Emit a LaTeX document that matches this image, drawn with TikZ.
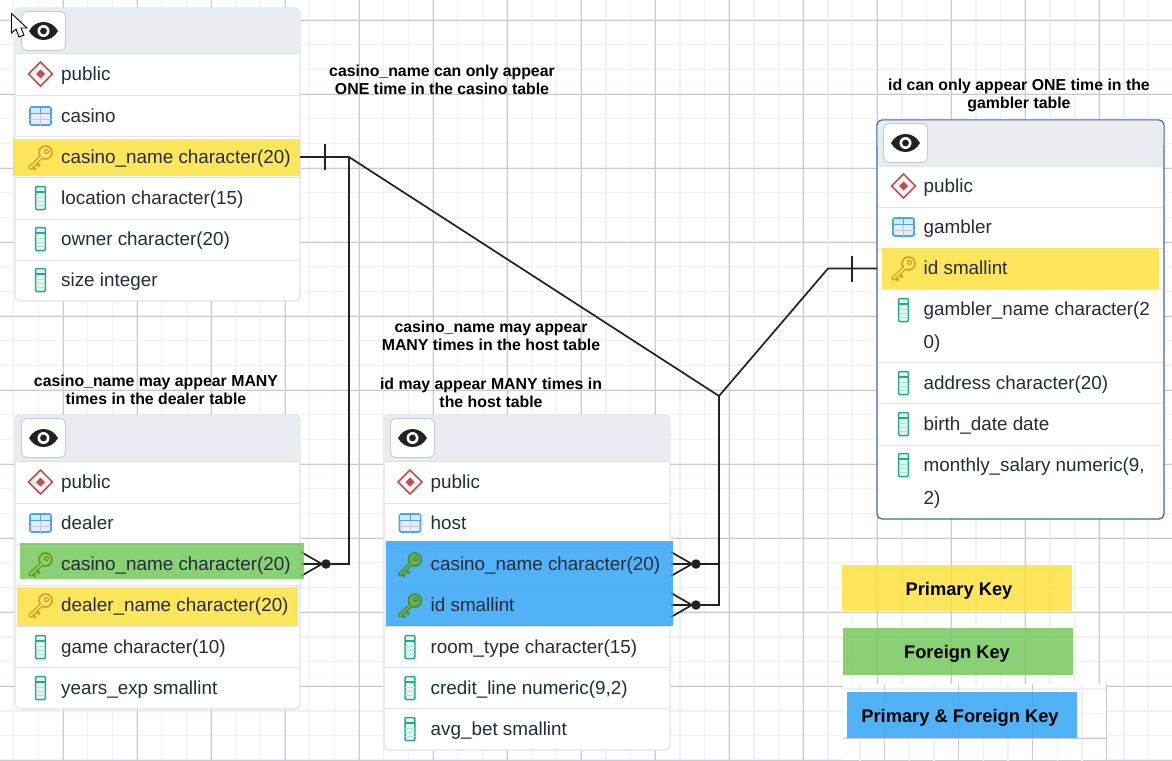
\documentclass[tikz,border=0pt]{standalone}
\usepackage{fontspec}
\setmainfont{Liberation Sans}
\usetikzlibrary{calc}

\definecolor{gridminor}{HTML}{EFF0F5}
\definecolor{gridmajor}{HTML}{C6CAD7}
\definecolor{tableedge}{HTML}{E0E3EB}
\definecolor{tableblue}{HTML}{3F6C94}
\definecolor{headfill}{HTML}{E9ECF1}
\definecolor{rowink}{HTML}{242C3A}
\definecolor{linkink}{HTML}{222222}
\definecolor{pkfill}{HTML}{FDE139}
\definecolor{fkfill}{HTML}{70C856}
\definecolor{bothfill}{HTML}{2DA2F6}
\definecolor{schemared}{HTML}{C0504F}
\definecolor{tblblue}{HTML}{4AA5EE}
\definecolor{colteal}{HTML}{22A98C}
\definecolor{pkkey}{HTML}{D2A524}
\definecolor{pkinner}{HTML}{FDE86A}
\definecolor{fkkey}{HTML}{6E9A1F}
\definecolor{fkinner}{HTML}{8AD373}
\definecolor{bothkey}{HTML}{4A8F3C}
\definecolor{bothinner}{HTML}{66B25A}

\tikzset{
  gridthin/.style={gridminor, line width=1.5pt},
  gridthick/.style={gridmajor, line width=0.9pt},
  tablebox/.style={draw=tableedge, fill=white, line width=1.3pt, rounded corners=5pt},
  sepline/.style={tableedge, line width=1pt},
  rowtext/.style={anchor=base west, inner sep=0pt, text=rowink, font=\fontsize{18.85}{22}\selectfont},
  notetext/.style={inner sep=0pt, text=black, font=\fontsize{15.85}{18.5}\selectfont\bfseries},
  legendtext/.style={inner sep=0pt, text=black, font=\fontsize{18.3}{20}\selectfont\bfseries},
  keyrow/.style={fill=#1, fill opacity=0.82, rectangle, inner sep=0pt, anchor=north west},
  link/.style={linkink, line width=1.7pt},
  crowdot/.style={circle, fill=linkink, inner sep=0pt, minimum size=9.5pt},
  pics/schemaicon/.style={code={
    \draw[schemared, line width=1.5pt, fill=schemared!6] (-12,0) -- (0,-12) -- (12,0) -- (0,12) -- cycle;
    \fill[schemared] (-4.5,0) -- (0,-4.5) -- (4.5,0) -- (0,4.5) -- cycle;
  }},
  pics/tblicon/.style={code={
    \draw[tblblue, line width=1.6pt, fill=headfill, rounded corners=1.5pt] (-10.5,-9) rectangle (10.5,9);
    \fill[tblblue!25] (-9.7,-8.2) rectangle (9.7,-2.5);
    \draw[tblblue, line width=1pt] (-10.5,-2.5) -- (10.5,-2.5) (0,-9) -- (0,-2.5);
    \draw[gridmajor, line width=0.9pt] (-10.5,3.2) -- (10.5,3.2) (0,-2.5) -- (0,9);
  }},
  pics/colicon/.style={code={
    \draw[colteal, line width=1.5pt, fill=colteal!12, rounded corners=1pt] (-4.9,-11.5) rectangle (4.9,11.5);
    \draw[colteal, line width=1.2pt] (-4.9,-6) -- (4.9,-6);
    \draw[colteal!35, line width=0.8pt] (-4.9,-1) -- (4.9,-1) (-4.9,3) -- (4.9,3) (-4.9,7) -- (4.9,7);
  }},
  pics/keyicon/.style 2 args={code={
    \draw[#1, line width=4.4pt, line cap=round] (2,-1) -- (-10,10.5);
    \draw[#1, line width=3pt] (-4.5,5.5) -- (-1,9.5);
    \draw[#1, line width=3pt] (-8.5,9) -- (-5,12.5);
    \fill[#1] (5,-4.5) circle (7.4);
    \draw[#2, line width=1.6pt, line cap=round] (2,-1) -- (-10,10.5);
    \fill[#2] (5,-4.5) circle (5.6);
    \fill[#1] (6,-5.5) circle (2.8);
    \fill[#2] (6,-5.5) circle (1.3);
  }},
  pics/eyeicon/.style={code={
    \fill[linkink] (-14.5,0) .. controls (-8,-12) and (8,-12) .. (14.5,0) .. controls (8,12) and (-8,12) .. cycle;
    \fill[white] (0,0) circle (6);
    \fill[linkink] (0,0) circle (3.4);
  }},
  pics/crowfoot/.style={code={
    \draw[link] (-4,0) -- (-25,-12) (-4,0) -- (-25,0) (-4,0) -- (-25,12) (-4,0) -- (0,0);
  }}
}

% grid of the canvas
\newcommand{\bggrid}{
  \foreach \gx in {-11,13.67,...,1180} \draw[gridthin] (\gx,-30) -- (\gx,790);
  \foreach \gy in {-4.67,20,...,790} \draw[gridthin] (-30,\gy) -- (1180,\gy);
  \foreach \gx in {63,137,...,1180} \draw[gridthick] (\gx,-30) -- (\gx,790);
  \foreach \gy in {20,94,...,790} \draw[gridthick] (-30,\gy) -- (1180,\gy);
}

% table frame: name, left, top, right, bottom, edge colour
\newcommand{\dbtable}[6]{
  \draw[tablebox, draw=#6] (#2,#3) rectangle (#4,#5);
  \fill[headfill, rounded corners=5pt] (#2+0.7,#3+0.7) rectangle (#4-0.7,#3+30);
  \fill[headfill] (#2+0.7,#3+15) rectangle (#4-0.7,#3+46);
  \draw[sepline] (#2+0.7,#3+46) -- (#4-0.7,#3+46);
  \node[draw=gridmajor, fill=white, rounded corners=5pt, line width=0.9pt, inner sep=0pt,
        minimum width=44pt, minimum height=39pt] (#1eye) at (#2+28.5,#3+23) {};
  \pic at (#1eye) {eyeicon};
}

\begin{document}
\begin{tikzpicture}[x=1pt, y=-1pt]
\useasboundingbox (0,0) rectangle (1172,760);
\fill[white] (0,0) rectangle (1172,760);

% Draw the canvas grid
\bggrid

% Pasted patch behind the last legend box
\fill[white] (843,684) rectangle (1107,760);
\begin{scope}
  \clip (843,684) rectangle (1107,760);
  \begin{scope}[shift={(7.5,-22)}]
    \bggrid
  \end{scope}
\end{scope}

% Draw the tables
\dbtable{casino}{15}{8}{300}{301}{tableedge}
\dbtable{dealer}{15}{415}{300}{709}{tableedge}
\dbtable{host}{384}{415}{670}{750}{tableedge}
\dbtable{gambler}{877}{120}{1164}{519}{tableblue}

% Row separators
\foreach \sy in {95,136,177,219,260} \draw[sepline] (16,\sy) -- (299,\sy);
\foreach \sy in {503,544,585,626,667} \draw[sepline] (16,\sy) -- (299,\sy);
\foreach \sy in {503,544,585,626,667,708} \draw[sepline] (385,\sy) -- (669,\sy);
\foreach \sy in {207,248,289,362,403,445} \draw[sepline] (878,\sy) -- (1163,\sy);

% Connector ends
\coordinate (casinopk) at (300,157);
\coordinate (casinotick) at (325,157);
\coordinate (casinoturn) at (349,157);
\coordinate (middle) at (719,396);
\coordinate (gamblerturn) at (828,268.5);
\coordinate (gamblertick) at (852,268.5);
\coordinate (gamblerpk) at (877,268.5);
\node[crowdot] (dealerdot) at (326,564) {};
\node[crowdot] (hostcasinodot) at (696,564) {};
\node[crowdot] (hostiddot) at (696,605) {};

% Draw the connectors
\draw[link] (casinopk) -- (casinoturn) -- (middle) -- (gamblerturn) -- (gamblerpk);
\draw[link] (casinoturn) |- (dealerdot.center);
\draw[link] (middle) |- (hostiddot.center);
\draw[link] (middle |- hostcasinodot) -- (hostcasinodot.center);
\draw[link] (casinotick) ++(0,-13) -- ++(0,26);
\draw[link] (gamblertick) ++(0,-13) -- ++(0,26);
\pic at (dealerdot) {crowfoot};
\pic at (hostcasinodot) {crowfoot};
\pic at (hostiddot) {crowfoot};

% Key rows
\node[keyrow=pkfill, minimum width=287pt, minimum height=37pt] (casinokey) at (13,139) {};
\node[keyrow=fkfill, minimum width=284pt, minimum height=36pt] (dealerfk) at (20,543) {};
\node[keyrow=pkfill, minimum width=281pt, minimum height=39pt] (dealerkey) at (17,587) {};
\node[keyrow=bothfill, minimum width=287pt, minimum height=85pt] (hostkeys) at (386,541) {};
\node[keyrow=pkfill, minimum width=277pt, minimum height=41pt] (gamblerkey) at (882,248) {};

% Icons of the rows
\foreach \ix/\iy in {40.5/74, 40.5/482, 410/482, 903.5/186} \pic at (\ix,\iy) {schemaicon};
\foreach \ix/\iy in {40.5/116, 40.5/523, 410/523, 903.5/227} \pic at (\ix,\iy) {tblicon};
\foreach \ix/\iy in {40.5/198, 40.5/239, 40.5/280, 40.5/647, 40.5/688, 410/647, 410/688, 410/729,
                     903.5/310, 903.5/383, 903.5/424, 903.5/465} \pic at (\ix,\iy) {colicon};
\foreach \ix/\iy in {40.5/157, 40.5/605, 903.5/268} \pic at (\ix,\iy) {keyicon={pkkey}{pkinner}};
\pic at (40.5,564) {keyicon={fkkey}{fkinner}};
\foreach \ix/\iy in {410/564, 410/605} \pic at (\ix,\iy) {keyicon={bothkey}{bothinner}};

% Row labels, casino
\foreach \rowname/\ry/\rowlabel in {1/74/public, 2/116/casino, 3/157/casino\_name character(20),
    4/198/location character(15), 5/239/owner character(20), 6/280/size integer}
  \node[rowtext] (casino\rowname) at (61,\ry+6.5) {\rowlabel};

% Row labels, dealer
\foreach \rowname/\ry/\rowlabel in {1/482/public, 2/523/dealer, 3/564/casino\_name character(20),
    4/605/dealer\_name character(20), 5/647/game character(10), 6/688/years\_exp smallint}
  \node[rowtext] (dealer\rowname) at (61,\ry+6.5) {\rowlabel};

% Row labels, host
\foreach \rowname/\ry/\rowlabel in {1/482/public, 2/523/host, 3/564/casino\_name character(20),
    4/605/id smallint, 5/647/room\_type character(15), 6/688/{credit\_line numeric(9,2)}, 7/729/avg\_bet smallint}
  \node[rowtext] (host\rowname) at (430.5,\ry+6.5) {\rowlabel};

% Row labels, gambler
\foreach \rowname/\ry/\rowlabel in {1/186/public, 2/227/gambler, 3/268/id smallint, 4/309/gambler\_name character(2,
    5/342/0), 6/383/address character(20), 7/424/birth\_date date, 8/465/{monthly\_salary numeric(9,}, 9/498/2)}
  \node[rowtext] (gambler\rowname) at (923.5,\ry+6.5) {\rowlabel};

% Notes above the tables
\node[notetext, align=center] (casinonote) at (442,80) {casino\_name can only appear\\ONE time in the casino table};
\node[notetext, align=center] (gamblernote) at (1019,95.5) {id can only appear ONE time in the\\gambler table};
\node[notetext, align=center] (dealernote) at (156,390) {casino\_name may appear MANY\\times in the dealer table};
\node[notetext, align=center] (hostnote) at (491,364.5) {casino\_name may appear\\MANY times in the host table\\[20pt]id may appear MANY times in\\the host table};

% Legend
\fill[pkfill, fill opacity=0.82] (842,565) rectangle (1072,611);
\fill[fkfill, fill opacity=0.82] (843,628) rectangle (1073,675);
\fill[bothfill, fill opacity=0.82] (847,692) rectangle (1077,738);
\node[legendtext] (pklegend) at (959,590.5) {Primary Key};
\node[legendtext] (fklegend) at (957,653.5) {Foreign Key};
\node[legendtext] (bothlegend) at (960,717.5) {Primary \& Foreign Key};

% Mouse pointer
\draw[black, fill=white, line width=0.9pt] (11.5,13.5) -- (11.5,33) -- (16,29) -- (19,37) -- (24,35) -- (21,28) -- (27,28) -- cycle;
\end{tikzpicture}
\end{document}
